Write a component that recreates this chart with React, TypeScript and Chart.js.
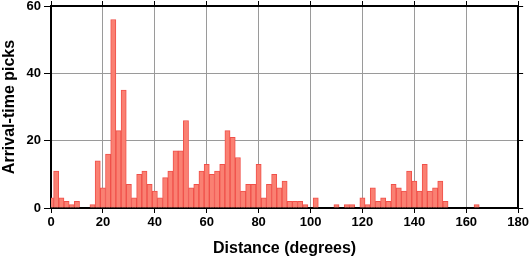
import { useEffect, useRef } from "react";
import { Chart, registerables } from "chart.js";

Chart.register(...registerables);

// Histogram bin centres (degrees) and counts
const distances = [
  0, 2, 4, 6, 8, 10, 12, 14, 16, 18,
  20, 22, 24, 26, 28, 30, 32, 34, 36, 38,
  40, 42, 44, 46, 48, 50, 52, 54, 56, 58,
  60, 62, 64, 66, 68, 70, 72, 74, 76, 78,
  80, 82, 84, 86, 88, 90, 92, 94, 96, 98,
  100, 102, 104, 106, 108, 110, 112, 114, 116, 118,
  120, 122, 124, 126, 128, 130, 132, 134, 136, 138,
  140, 142, 144, 146, 148, 150, 152, 154, 156, 158,
  160, 162, 164, 166, 168, 170, 172, 174, 176, 178,
  180,
];

const picks = [
  3, 11, 3, 2, 1, 2, 0, 0, 1, 14,
  6, 16, 56, 23, 35, 7, 3, 10, 11, 7,
  5, 3, 9, 11, 17, 17, 26, 6, 7, 11,
  13, 10, 11, 13, 23, 21, 15, 5, 7, 7,
  13, 3, 7, 10, 6, 8, 2, 2, 2, 1,
  0, 3, 0, 0, 0, 1, 0, 1, 1, 0,
  3, 1, 6, 2, 3, 2, 7, 6, 5, 11,
  8, 5, 13, 5, 6, 8, 2, 0, 0, 0,
  0, 0, 1, 0, 0, 0, 0, 0, 0, 0,
  0,
];

const xTickStep = 20;
const yTickStep = 20;
const xTitle = "Distance (degrees)";
const yTitle = "Arrival-time picks";

const FAMILY = '"Liberation Sans", Arial, Helvetica, sans-serif';

export default function App() {
  const ref = useRef<HTMLCanvasElement | null>(null);

  useEffect(() => {
    document.body.style.margin = "0";
    const canvas = ref.current;
    if (!canvas) return;
    const tickFont = { family: FAMILY, size: 13, weight: "bold" as const };
    const yTickFont = { family: FAMILY, size: 13, weight: "bold" as const, lineHeight: 0.45 };
    const titleFont = { family: FAMILY, size: 16, weight: "bold" as const };
    const chart = new Chart(canvas, {
      type: "bar",
      data: {
        datasets: [
          {
            data: distances.map((d, i) => ({ x: d, y: picks[i] })),
            backgroundColor: "#fa8072",
            borderColor: "#f0504a",
            borderWidth: 1,
            borderSkipped: "bottom",
            barPercentage: 1,
            categoryPercentage: 1,
            clip: 0,
          },
        ],
      },
      options: {
        animation: false,
        responsive: false,
        maintainAspectRatio: false,
        layout: { padding: 0 },
        plugins: { legend: { display: false }, tooltip: { enabled: false } },
        scales: {
          x: {
            type: "linear",
            position: "bottom",
            min: 0,
            max: 180,
            offset: false,
            ticks: {
              stepSize: xTickStep,
              font: tickFont,
              color: "#000",
              padding: 2,
              maxRotation: 0,
              autoSkip: false,
            },
            grid: {
              color: "#9a9a9a",
              tickColor: "#000",
              tickLength: 5,
              offset: false,
              lineWidth: 1,
            },
            border: { color: "#000", width: 2 },
            title: {
              display: true,
              text: xTitle,
              font: titleFont,
              color: "#000",
              padding: 0,
            },
            afterFit: (s: any) => {
              s.height = 50;
            },
          },
          x2: {
            type: "linear",
            position: "top",
            min: 0,
            max: 180,
            offset: false,
            ticks: { stepSize: xTickStep, display: false },
            grid: {
              drawOnChartArea: false,
              tickColor: "#000",
              tickLength: 5,
              offset: false,
            },
            border: { color: "#000", width: 2 },
            afterFit: (s: any) => {
              s.height = 6;
            },
          },
          y: {
            type: "linear",
            position: "left",
            min: 0,
            max: 60,
            ticks: {
              stepSize: yTickStep,
              font: yTickFont,
              color: "#000",
              padding: 3,
            },
            grid: {
              color: "#9a9a9a",
              tickColor: "#000",
              tickLength: 7,
              lineWidth: 1,
            },
            border: { color: "#000", width: 2 },
            title: {
              display: true,
              text: yTitle,
              font: titleFont,
              color: "#000",
              padding: 0,
            },
            afterFit: (s: any) => {
              s.width = 51;
            },
          },
          y2: {
            type: "linear",
            position: "right",
            min: 0,
            max: 60,
            ticks: { stepSize: yTickStep, display: false },
            grid: {
              drawOnChartArea: false,
              tickColor: "#000",
              tickLength: 5,
            },
            border: { color: "#000", width: 2 },
            afterFit: (s: any) => {
              s.width = 12;
            },
          },
        },
      },
    });
    return () => chart.destroy();
  }, []);

  return (
    <div style={{ width: 531, height: 258 }}>
      <canvas ref={ref} width={531} height={258} style={{ display: "block" }} />
    </div>
  );
}
